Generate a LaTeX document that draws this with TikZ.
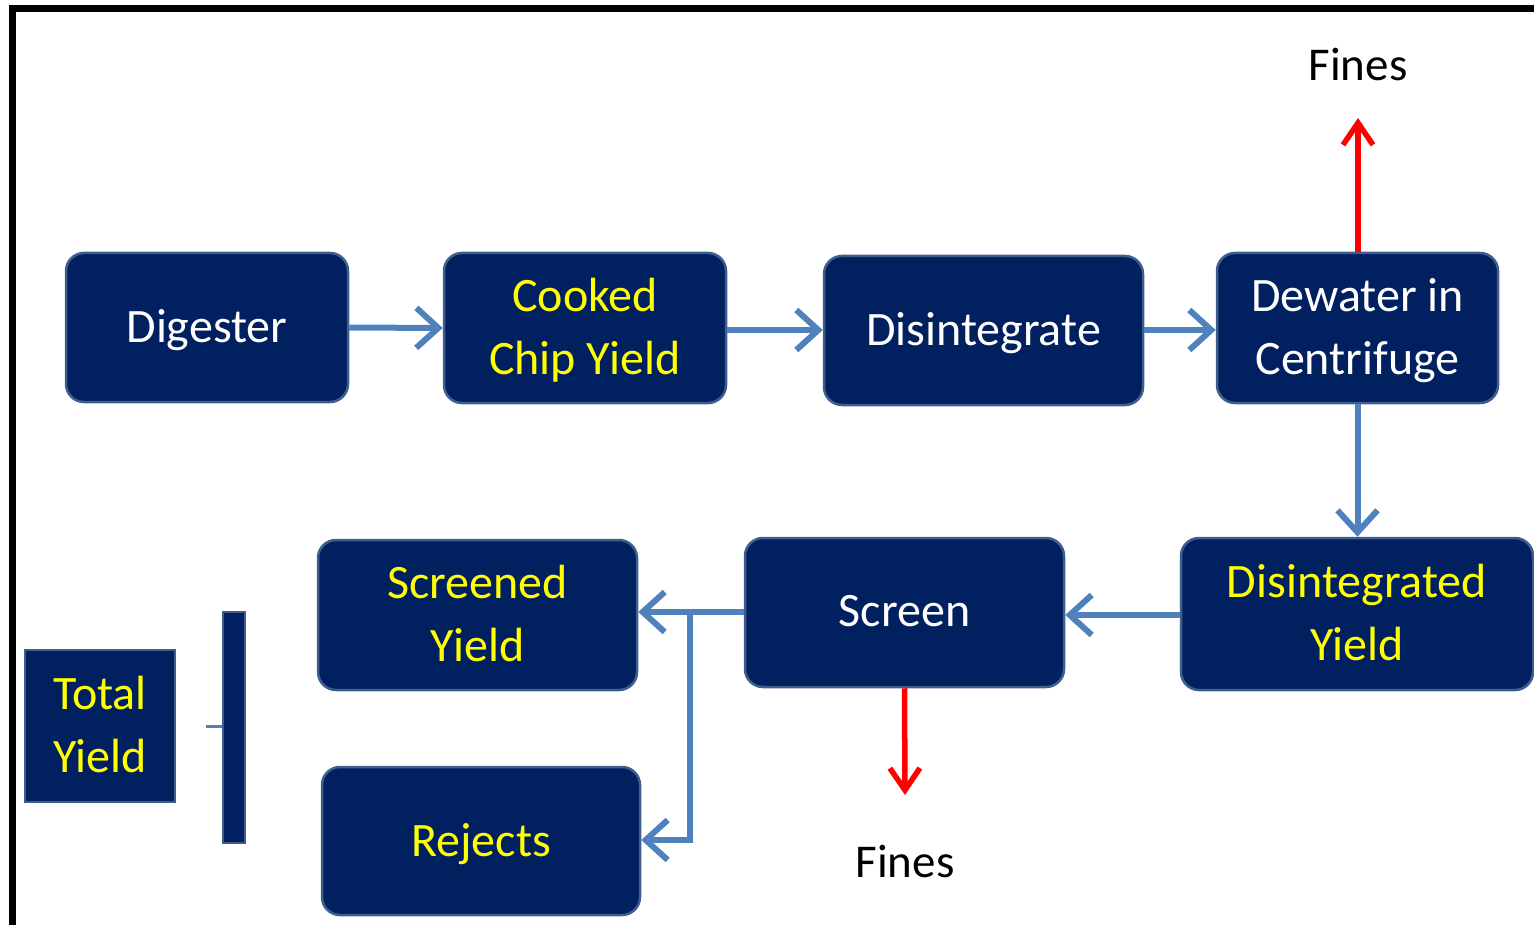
\documentclass[tikz,border=0pt]{standalone}
\usepackage{fontspec}
\setmainfont{Carlito}
\usetikzlibrary{arrows.meta}
\definecolor{boxnavy}{HTML}{002060}
\definecolor{boxedge}{HTML}{3E5F8E}
\definecolor{flowblue}{HTML}{4F81BD}
\definecolor{txtyellow}{HTML}{FFFF00}
\tikzset{
  procbox/.style={rectangle, rounded corners=18pt, fill=boxnavy, draw=boxedge,
    line width=2.5pt, inner sep=0pt, align=center, text depth=3pt,
    font=\fontsize{48}{63}\selectfont},
  whitetxt/.style={text=white},
  yellowtxt/.style={text=txtyellow},
  flow/.style={draw=flowblue, line width=6pt,
    -{Straight Barb[length=22pt, width=40pt, line width=6pt]}},
  finesflow/.style={draw=red, line width=5.5pt,
    -{Straight Barb[length=22pt, width=30pt, line width=5.5pt]}},
  fineslabel/.style={font=\fontsize{47}{56}\selectfont, text=black, inner sep=0pt}
}
\begin{document}
\begin{tikzpicture}[x=1pt,y=-1pt]
  \useasboundingbox (0,0) rectangle (1534,925);
  \clip (0,0) rectangle (1534,925);

  % frame (only the top and left sides fall inside the page)
  \draw[line width=7pt] (12.5,1000) -- (12.5,8.5) -- (1700,8.5);

  % upper row
  \node[procbox, whitetxt, minimum width=282pt, minimum height=149pt] (dig) at (207,327.5) {Digester};
  \node[procbox, yellowtxt, minimum width=282pt, minimum height=150pt] (cook) at (585,328) {Cooked\\Chip Yield};
  \node[procbox, whitetxt, minimum width=319pt, minimum height=149pt] (disint) at (983.5,330.5) {Disintegrate};
  \node[procbox, whitetxt, minimum width=281pt, minimum height=150pt] (dew) at (1357.5,328) {Dewater in\\Centrifuge};

  % lower row
  \node[procbox, yellowtxt, minimum width=352pt, minimum height=152pt] (dyield) at (1357,614) {Disintegrated\\Yield};
  \node[procbox, whitetxt, minimum width=319pt, minimum height=149pt] (screen) at (904.5,612.5) {Screen};
  \node[procbox, yellowtxt, minimum width=319pt, minimum height=150pt] (syield) at (477.5,615) {Screened\\Yield};
  \node[procbox, yellowtxt, minimum width=318pt, minimum height=148pt] (rej) at (481,841) {Rejects};

  % total yield with its bracket
  \node[procbox, yellowtxt, rounded corners=0pt, line width=2pt, text depth=\dp\strutbox,
        minimum width=150pt, minimum height=152pt] (total) at (100,726) {Total\\Yield};
  \node[rectangle, fill=boxnavy, draw=boxedge, line width=2pt, inner sep=0pt,
        minimum width=22pt, minimum height=231pt] (bar) at (233.5,727.5) {};
  \coordinate (tickend) at (206,726);
  \draw[flowblue, line width=3pt] (tickend) -- (bar.west |- tickend);

  % fines labels
  \node[fineslabel] (finestop) at (1358,65) {Fines};
  \node[fineslabel] (finesbot) at (905,861) {Fines};

  % main flow
  \draw[flow] (dig.east) -- (cook.west);
  \draw[flow] (cook.east |- 0,330) -- (disint.west |- 0,330);
  \draw[flow] (disint.east |- 0,330) -- (dew.west |- 0,330);
  \draw[flow] (dew.south) -- (dyield.north -| dew.south);
  \draw[flow] (dyield.west |- 0,615) -- (screen.east |- 0,615);
  \draw[flow] (screen.west |- 0,612) -- (syield.east |- 0,612);
  \coordinate (split) at (690,612);
  \draw[flow] (split) -- (690,840) -- (rej.east |- 0,840);

  % fines streams
  \draw[finesflow] (dew.north -| 1358,0) -- (1358,118);
  \draw[finesflow] (screen.south) -- (905,795);
\end{tikzpicture}
\end{document}
